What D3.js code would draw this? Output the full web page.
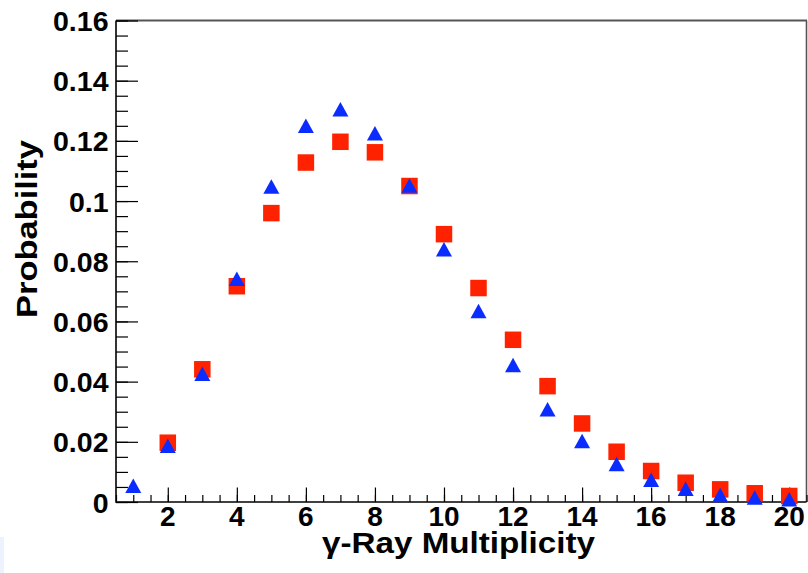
<!DOCTYPE html>
<html lang="en">
<meta charset="utf-8">
<style>
body {
  margin: 0;
  background: #fff;
}
text {
  font-family: 'Liberation Sans', Arial, sans-serif;
  font-weight: bold;
  fill: #000;
}
.axis .domain {
  display: none;
}
.axis line {
  stroke: #000;
  stroke-width: 1.2px;
}
</style>
<body>
<div id="chart"></div>

<script src="https://cdn.jsdelivr.net/npm/d3@7"></script>
<script>

// values
var redX = [2, 3, 4, 5, 6, 7, 8, 9, 10, 11, 12, 13, 14, 15, 16, 17, 18, 19, 20];
var redY = [0.0197, 0.0441, 0.0717, 0.0960, 0.1128, 0.1197, 0.1162, 0.1050, 0.0890, 0.0711,
            0.0539, 0.0385, 0.0261, 0.0167, 0.0103, 0.0064, 0.0042, 0.0029, 0.0020];

var blueX = [1, 2, 3, 4, 5, 6, 7, 8, 9, 10, 11, 12, 13, 14, 15, 16, 17, 18, 19, 20];
var blueY = [0.0054, 0.0187, 0.0426, 0.0742, 0.1048, 0.1250, 0.1305, 0.1225, 0.1052, 0.0840,
             0.0635, 0.0455, 0.0308, 0.0203, 0.0126, 0.0074, 0.0044, 0.0023, 0.0015, 0.0009];

var xTickLabels = [2, 4, 6, 8, 10, 12, 14, 16, 18, 20];
var yTickLabels = [0, 0.02, 0.04, 0.06, 0.08, 0.1, 0.12, 0.14, 0.16];

var width = 808,
    height = 573;

// plot frame in pixels (note: "top" is taken by window.top)
var frameL = 116, frameR = 806.5, frameT = 20.5, frameB = 502;

var x = d3.scaleLinear().domain([0.5, 20.5]).range([frameL, frameR]);
var y = d3.scaleLinear().domain([0, 0.16]).range([frameB, frameT]);

var svg = d3.select("#chart").append("svg")
    .attr("width", width)
    .attr("height", height);

// little pale patch in the lower left corner of the original
svg.append("rect")
    .attr("x", 0).attr("y", 537).attr("width", 4).attr("height", 36)
    .attr("fill", "#eef2ff");

// frame: top and right edges are grey
svg.append("line")
    .attr("x1", frameL).attr("x2", frameR + 0.5).attr("y1", frameT).attr("y2", frameT)
    .attr("stroke", "#555").attr("stroke-width", 2);
svg.append("line")
    .attr("x1", frameR).attr("x2", frameR).attr("y1", frameT).attr("y2", frameB)
    .attr("stroke", "#555").attr("stroke-width", 1.6);

// minor ticks
var xMinor = d3.range(0.5, 20.51, 0.5);
var yMinor = d3.range(0, 0.1601, 0.005);

svg.append("g")
    .attr("class", "axis")
    .attr("transform", "translate(0," + frameB + ")")
    .call(d3.axisTop(x).tickValues(xMinor).tickSize(7).tickFormat(""));

svg.append("g")
    .attr("class", "axis")
    .attr("transform", "translate(" + frameL + ",0)")
    .call(d3.axisRight(y).tickValues(yMinor).tickSize(12).tickFormat(""));

// major ticks
svg.append("g")
    .attr("class", "axis")
    .attr("transform", "translate(0," + frameB + ")")
    .call(d3.axisTop(x).tickValues(xTickLabels).tickSize(14.5).tickFormat(""));

svg.append("g")
    .attr("class", "axis")
    .attr("transform", "translate(" + frameL + ",0)")
    .call(d3.axisRight(y).tickValues(yTickLabels).tickSize(22).tickFormat(""));

// axis lines
svg.append("line")
    .attr("x1", frameL).attr("x2", frameR).attr("y1", frameB).attr("y2", frameB)
    .attr("stroke", "#000").attr("stroke-width", 1.6);
svg.append("line")
    .attr("x1", frameL).attr("x2", frameL).attr("y1", frameT).attr("y2", frameB + 0.8)
    .attr("stroke", "#000").attr("stroke-width", 1.6);

// tick labels
svg.append("g").selectAll("text")
    .data(xTickLabels)
  .enter().append("text")
    .attr("x", function(d) { return x(d); })
    .attr("y", 525.5)
    .attr("text-anchor", "middle")
    .style("font-size", "28px")
    .text(function(d) { return d; });

svg.append("g").selectAll("text")
    .data(yTickLabels)
  .enter().append("text")
    .attr("x", 108.5)
    .attr("y", function(d) { return y(d) + 10.5; })
    .attr("text-anchor", "end")
    .style("font-size", "28.5px")
    .text(function(d) { return d; });

// axis titles, stretched to the widths seen in the original
svg.append("text")
    .attr("x", 458.5)
    .attr("y", 552.5)
    .attr("text-anchor", "middle")
    .attr("textLength", 273)
    .attr("lengthAdjust", "spacingAndGlyphs")
    .style("font-size", "29px")
    .text("\u03b3-Ray Multiplicity");

svg.append("text")
    .attr("transform", "translate(37,229) rotate(-90)")
    .attr("text-anchor", "middle")
    .attr("textLength", 178)
    .attr("lengthAdjust", "spacingAndGlyphs")
    .style("font-size", "29px")
    .text("Probability");

// markers: red squares first, blue triangles on top
var sq = 16.5;
svg.append("g").selectAll("rect")
    .data(redX)
  .enter().append("rect")
    .attr("x", function(d) { return x(d) - sq / 2; })
    .attr("y", function(d, i) { return y(redY[i]) - sq / 2; })
    .attr("width", sq)
    .attr("height", sq)
    .attr("fill", "#ff2200");

var tw = 16, th = 14.5;
svg.append("g").selectAll("path")
    .data(blueX)
  .enter().append("path")
    .attr("transform", function(d, i) { return "translate(" + x(d) + "," + y(blueY[i]) + ")"; })
    .attr("d", "M0," + (-th / 2) + "L" + (tw / 2) + "," + (th / 2) + "L" + (-tw / 2) + "," + (th / 2) + "Z")
    .attr("fill", "#0a2cff");

</script>
</body>
</html>
